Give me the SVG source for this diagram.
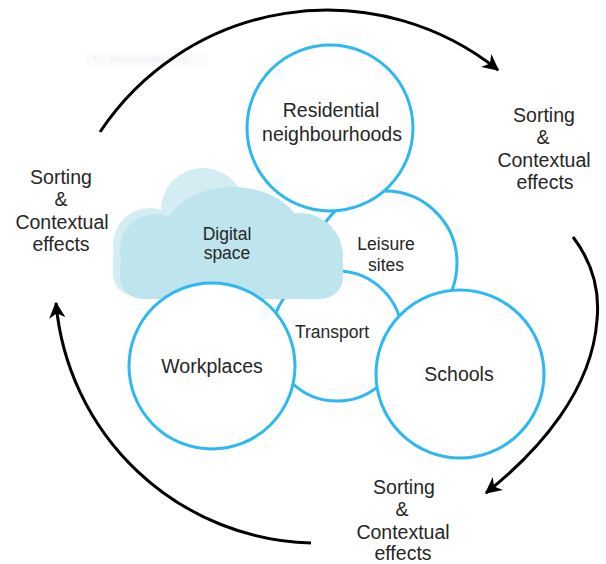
<svg xmlns="http://www.w3.org/2000/svg" width="606" height="564" viewBox="0 0 606 564">
<style>
.node{fill:#ffffff;stroke:#2cb8f0;stroke-width:3}
.lbl{font-family:"Liberation Sans",Arial,sans-serif;fill:#262626;text-anchor:middle}
.big{font-size:19.5px}
.mid{font-size:17.5px}
.arc{fill:none;stroke:#000;stroke-width:3}
.back{fill:#d4edf3}
.front{fill:#bee4ee}
</style>
<defs>
<marker id="ah" viewBox="0 0 12 12" refX="11" refY="6" markerWidth="5.5" markerHeight="5.5" orient="auto" markerUnits="strokeWidth">
<path d="M0,0 L12,6 L0,12 L3.5,6 Z" fill="#000"/>
</marker>
</defs>
<rect width="606" height="564" fill="#ffffff"/>
<g id="snip-artifact" opacity="0.5">
<rect x="87" y="52" width="121" height="13" fill="#f7f8fb"/>
<circle cx="95" cy="58.5" r="2" fill="#dfe3ec"/>
<text x="110" y="62" font-family="Liberation Sans,Arial,sans-serif" font-size="9.5" font-weight="bold" fill="#e3e6ee">Rectangular Snip</text>
</g>
<g id="connectors">
<path class="arc" d="M100,132 A273,273 0 0 1 498,70" marker-end="url(#ah)"/>
<path class="arc" d="M573,237 C592,262 600,290 597,320 C592,390 540,450 486,493" marker-end="url(#ah)"/>
<path class="arc" d="M311,543 A263,263 0 0 1 56,303" marker-end="url(#ah)"/>
</g>
<g id="leisure-sites">
<circle class="node" cx="385" cy="263" r="72"/>
<text class="lbl mid" x="386" y="250">Leisure</text>
<text class="lbl mid" x="386" y="271">sites</text>
</g>
<g id="residential-neighbourhoods">
<circle class="node" cx="330" cy="128" r="83"/>
<text class="lbl big" x="331" y="117">Residential</text>
<text class="lbl big" x="332" y="141">neighbourhoods</text>
</g>
<g id="transport">
<circle class="node" cx="337" cy="336" r="65"/>
<text class="lbl mid" x="332" y="338">Transport</text>
</g>
<g id="digital-space">
<circle class="back" cx="150" cy="245" r="37"/>
<circle class="back" cx="203" cy="210" r="42"/>
<rect class="back" x="113" y="238" width="200" height="58" rx="22"/>
<circle class="front" cx="155" cy="249" r="35"/>
<ellipse class="front" cx="233" cy="237" rx="70" ry="50"/>
<circle class="front" cx="300" cy="256" r="43"/>
<rect class="front" x="120" y="245" width="223" height="54" rx="22"/>
<text class="lbl mid" x="227" y="240">Digital</text>
<text class="lbl mid" x="227" y="259">space</text>
</g>
<g id="workplaces">
<circle class="node" cx="212" cy="366" r="83"/>
<text class="lbl big" x="212" y="373">Workplaces</text>
</g>
<g id="schools">
<circle class="node" cx="460" cy="374" r="84"/>
<text class="lbl big" x="459" y="381">Schools</text>
</g>
<g id="label-left">
<text class="lbl big" x="61" y="184">Sorting</text>
<text class="lbl big" x="61" y="206">&amp;</text>
<text class="lbl big" x="62" y="229">Contextual</text>
<text class="lbl big" x="61" y="251">effects</text>
</g>
<g id="label-right">
<text class="lbl big" x="544" y="122">Sorting</text>
<text class="lbl big" x="543" y="144">&amp;</text>
<text class="lbl big" x="544" y="167">Contextual</text>
<text class="lbl big" x="545" y="189">effects</text>
</g>
<g id="label-bottom">
<text class="lbl big" x="404" y="494">Sorting</text>
<text class="lbl big" x="402" y="516">&amp;</text>
<text class="lbl big" x="403" y="539">Contextual</text>
<text class="lbl big" x="403" y="560">effects</text>
</g>
</svg>
